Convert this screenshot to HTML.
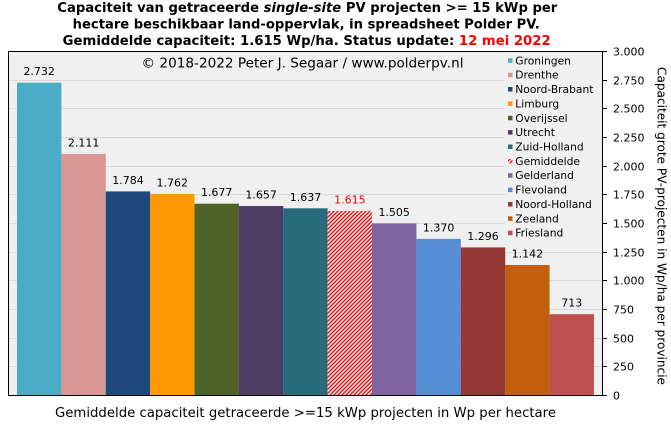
<!DOCTYPE html>
<html>
<head>
<meta charset="utf-8">
<style>
html,body{margin:0;padding:0;background:#fff;}
svg{display:block;}
text{font-family:"DejaVu Sans","Liberation Sans",sans-serif;}
</style>
</head>
<body>
<svg width="671" height="425" viewBox="0 0 671 425" xmlns="http://www.w3.org/2000/svg">
<defs>
<pattern id="hatch" patternUnits="userSpaceOnUse" width="4" height="4">
<rect width="4" height="4" fill="#ffffff"/>
<polygon points="0,0 2,0 0,2" fill="#ff0000"/>
<polygon points="4,0 4,2 2,4 0,4" fill="#ff0000"/>
</pattern>
</defs>
<rect width="671" height="425" fill="#fff"/>
<!-- Title -->
<text x="57.3" y="12" font-size="13" font-weight="bold" textLength="500" lengthAdjust="spacingAndGlyphs">Capaciteit van getraceerde <tspan font-style="italic">single-site</tspan> PV projecten &gt;= 15 kWp per</text>
<text x="72.7" y="28.5" font-size="13" font-weight="bold" textLength="467" lengthAdjust="spacingAndGlyphs">hectare beschikbaar land-oppervlak, in spreadsheet Polder PV.</text>
<text x="62.7" y="45" font-size="13" font-weight="bold" textLength="488" lengthAdjust="spacingAndGlyphs">Gemiddelde capaciteit: 1.615 Wp/ha. Status update: <tspan fill="#ff0000">12 mei 2022</tspan></text>

<!-- plot area -->
<rect x="8" y="51.5" width="594.5" height="344" fill="#f0f0f0"/>
<g stroke="#d9d9d9" stroke-width="1">
<line x1="8" x2="602" y1="366.5" y2="366.5"/>
<line x1="8" x2="602" y1="338.5" y2="338.5"/>
<line x1="8" x2="602" y1="309.5" y2="309.5"/>
<line x1="8" x2="602" y1="280.5" y2="280.5"/>
<line x1="8" x2="602" y1="252.5" y2="252.5"/>
<line x1="8" x2="602" y1="223.5" y2="223.5"/>
<line x1="8" x2="602" y1="194.5" y2="194.5"/>
<line x1="8" x2="602" y1="166.5" y2="166.5"/>
<line x1="8" x2="602" y1="137.5" y2="137.5"/>
<line x1="8" x2="602" y1="108.5" y2="108.5"/>
<line x1="8" x2="602" y1="80.5" y2="80.5"/>
</g>

<!-- legend background -->
<rect x="505" y="52" width="97" height="190" fill="#f0f0f0"/>

<!-- copyright -->
<text x="141.5" y="67.7" font-size="13" textLength="322" lengthAdjust="spacingAndGlyphs">© 2018-2022  Peter J. Segaar / www.polderpv.nl</text>

<!-- bars -->
<rect x="17" y="82.7" width="44.4" height="312.8" fill="#4bacc6"/>
<rect x="61.38" y="153.9" width="44.4" height="241.6" fill="#d99694"/>
<rect x="105.76" y="191.4" width="44.4" height="204.1" fill="#1f497d"/>
<rect x="150.14" y="193.9" width="44.4" height="201.6" fill="#ff9900"/>
<rect x="194.52" y="203.7" width="44.4" height="191.8" fill="#4f6228"/>
<rect x="238.9" y="206.0" width="44.4" height="189.5" fill="#4e3b62"/>
<rect x="283.28" y="208.3" width="44.4" height="187.2" fill="#276a7b"/>
<rect x="327.66" y="210.8" width="44.4" height="184.7" fill="url(#hatch)"/>
<rect x="372.04" y="223.4" width="44.4" height="172.1" fill="#8064a2"/>
<rect x="416.42" y="238.9" width="44.4" height="156.6" fill="#558ed5"/>
<rect x="460.8" y="247.4" width="44.4" height="148.1" fill="#953735"/>
<rect x="505.18" y="265.0" width="44.4" height="130.5" fill="#c25e0c"/>
<rect x="549.56" y="314.2" width="44.4" height="81.3" fill="#c0504d"/>

<!-- value labels -->
<g font-size="11" text-anchor="middle" fill="#000">
<text x="39.2" y="75.2">2.732</text>
<text x="83.6" y="146.4">2.111</text>
<text x="128" y="183.9">1.784</text>
<text x="172.3" y="186.4">1.762</text>
<text x="216.7" y="196.2">1.677</text>
<text x="261.1" y="198.5">1.657</text>
<text x="305.5" y="200.8">1.637</text>
<text x="349.9" y="203.3" fill="#ff0000">1.615</text>
<text x="394.2" y="215.9">1.505</text>
<text x="438.6" y="231.4">1.370</text>
<text x="483" y="239.9">1.296</text>
<text x="527.4" y="257.5">1.142</text>
<text x="571.8" y="306.7">713</text>
</g>

<!-- frame -->
<g stroke="#000" stroke-width="1" fill="none">
<line x1="8.5" y1="51.5" x2="8.5" y2="395.5"/>
<line x1="8" y1="51.5" x2="602.5" y2="51.5"/>
<line x1="8" y1="395.5" x2="602.5" y2="395.5"/>
<line x1="602.5" y1="51" x2="602.5" y2="396"/>
<line x1="602.5" x2="607" y1="51.5" y2="51.5"/>
<line x1="602.5" x2="607" y1="80.5" y2="80.5"/>
<line x1="602.5" x2="607" y1="108.5" y2="108.5"/>
<line x1="602.5" x2="607" y1="137.5" y2="137.5"/>
<line x1="602.5" x2="607" y1="166.5" y2="166.5"/>
<line x1="602.5" x2="607" y1="194.5" y2="194.5"/>
<line x1="602.5" x2="607" y1="223.5" y2="223.5"/>
<line x1="602.5" x2="607" y1="252.5" y2="252.5"/>
<line x1="602.5" x2="607" y1="280.5" y2="280.5"/>
<line x1="602.5" x2="607" y1="309.5" y2="309.5"/>
<line x1="602.5" x2="607" y1="338.5" y2="338.5"/>
<line x1="602.5" x2="607" y1="366.5" y2="366.5"/>
<line x1="602.5" x2="607" y1="395.5" y2="395.5"/>
</g>

<!-- tick labels -->
<g font-size="11" fill="#000">
<text x="613" y="55.7">3.000</text>
<text x="613" y="84.5">2.750</text>
<text x="613" y="112.5">2.500</text>
<text x="613" y="141.5">2.250</text>
<text x="613" y="170.5">2.000</text>
<text x="613" y="198.5">1.750</text>
<text x="613" y="227.5">1.500</text>
<text x="613" y="256.5">1.250</text>
<text x="613" y="284.5">1.000</text>
<text x="613" y="313.5">750</text>
<text x="613" y="342.5">500</text>
<text x="613" y="370.5">250</text>
<text x="613" y="399.5">0</text>
</g>

<!-- legend -->
<g font-size="10.7" fill="#000">
<rect x="508" y="58.3" width="4.5" height="4.5" fill="#4bacc6"/><text x="515.3" y="64.3">Groningen</text>
<rect x="508" y="72.7" width="4.5" height="4.5" fill="#d99694"/><text x="515.3" y="78.7">Drenthe</text>
<rect x="508" y="87.0" width="4.5" height="4.5" fill="#1f497d"/><text x="515.3" y="93.0">Noord-Brabant</text>
<rect x="508" y="101.4" width="4.5" height="4.5" fill="#ff9900"/><text x="515.3" y="107.4">Limburg</text>
<rect x="508" y="115.8" width="4.5" height="4.5" fill="#4f6228"/><text x="515.3" y="121.8">Overijssel</text>
<rect x="508" y="130.1" width="4.5" height="4.5" fill="#4e3b62"/><text x="515.3" y="136.1">Utrecht</text>
<rect x="508" y="144.5" width="4.5" height="4.5" fill="#276a7b"/><text x="515.3" y="150.5">Zuid-Holland</text>
<rect x="508" y="158.9" width="4.5" height="4.5" fill="url(#hatch)"/><text x="515.3" y="164.9">Gemiddelde</text>
<rect x="508" y="173.2" width="4.5" height="4.5" fill="#8064a2"/><text x="515.3" y="179.2">Gelderland</text>
<rect x="508" y="187.6" width="4.5" height="4.5" fill="#558ed5"/><text x="515.3" y="193.6">Flevoland</text>
<rect x="508" y="202.0" width="4.5" height="4.5" fill="#953735"/><text x="515.3" y="208.0">Noord-Holland</text>
<rect x="508" y="216.3" width="4.5" height="4.5" fill="#c25e0c"/><text x="515.3" y="222.3">Zeeland</text>
<rect x="508" y="230.7" width="4.5" height="4.5" fill="#c0504d"/><text x="515.3" y="236.7">Friesland</text>
</g>

<!-- right axis title -->
<text transform="translate(657.5,67) rotate(90)" font-size="12.5" textLength="318" lengthAdjust="spacingAndGlyphs">Capaciteit grote PV-projecten in Wp/ha per provincie</text>

<!-- x axis title -->
<text x="55" y="417" font-size="13" textLength="501" lengthAdjust="spacingAndGlyphs">Gemiddelde capaciteit getraceerde &gt;=15 kWp projecten in Wp per hectare</text>
</svg>
</body>
</html>
